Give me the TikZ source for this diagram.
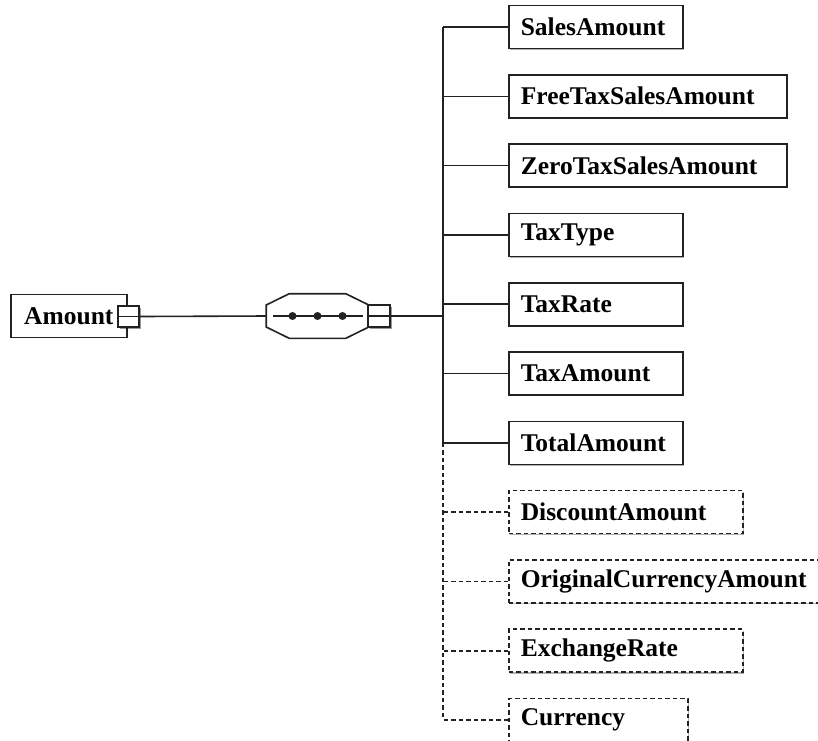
\documentclass[tikz,border=0pt]{standalone}
\usepackage{fontspec}
\setmainfont{Liberation Serif}
\usepackage{tikz}
\usetikzlibrary{positioning,shadows,calc}
\definecolor{ink}{HTML}{222222}

\begin{document}
\begin{tikzpicture}[x=1pt,y=-1pt,line width=1.6pt,draw=ink,
  font=\fontsize{25.5}{30}\selectfont\bfseries,
  elem/.style={draw,fill=white,anchor=west,minimum height=43pt,inner xsep=12pt,align=left,
    drop shadow={shadow xshift=1.3pt,shadow yshift=-1.3pt,opacity=0.3,fill=black}},
  optelem/.style={elem,drop shadow={opacity=0},dash pattern=on 4.5pt off 3pt},
  expander/.style={draw,fill=white,minimum size=21pt,inner sep=0pt,
    drop shadow={shadow xshift=1.5pt,shadow yshift=-1.5pt,opacity=0.4,fill=black},
    path picture={\draw (path picture bounding box.west) -- (path picture bounding box.east);}},
  branch/.style={line width=1.6pt},
  optbranch/.style={line width=1.6pt,dash pattern=on 4.5pt off 3pt}]
\useasboundingbox (0,0) rectangle (818,740);
% root
\node[draw,fill=white,minimum width=116pt,minimum height=43pt,anchor=west] (amount) at (10,316) {Amount};
\node[expander] (amountx) at (128.5,316.5) {};
% sequence
\node[minimum width=101pt,minimum height=43pt,inner sep=0pt] (seq) at (317.5,316) {};
\draw (amountx.east) -- (seq.west);
\draw[fill=white] ([yshift=11pt]seq.west) -- ([xshift=23pt]seq.north west) -- ([xshift=-23pt]seq.north east)
  -- ([yshift=11pt]seq.east) -- ([yshift=-11pt]seq.east) -- ([xshift=-23pt]seq.south east)
  -- ([xshift=23pt]seq.south west) -- ([yshift=-11pt]seq.west) -- cycle;
\draw ([xshift=7pt]seq.west) -- ([xshift=-6pt]seq.east);
\foreach \dx in {-25,0,25}
  \fill[ink] ([xshift=\dx pt]seq.center) circle (4pt);
\node[expander,minimum size=22pt] (seqx) at (379,316) {};
\coordinate (trunk) at (443,316);
\draw[line width=2.6pt] (seqx.east) -- (trunk);
% children
\foreach \i/\lab/\w in {0/SalesAmount/150,1/FreeTaxSalesAmount/254,2/ZeroTaxSalesAmount/254,
  3/TaxType/150,4/TaxRate/150,5/TaxAmount/150,6/TotalAmount/150}{
  \node[elem,text width=\w pt] (e\i) at (508,27+\i*69.3) {\lab};
  \draw[branch] (e\i.west) -- (e\i.west -| trunk);
}
\foreach \i/\lab/\w in {7/DiscountAmount/210,8/OriginalCurrencyAmount/306,9/ExchangeRate/210,10/Currency/155}{
  \node[optelem,text width=\w pt] (e\i) at (508,27+\i*69.3) {\lab};
  \draw[optbranch] (e\i.west) -- (e\i.west -| trunk);
}
\draw[branch] (e0.west -| trunk) -- (e6.west -| trunk);
\draw[optbranch] (e6.west -| trunk) -- (e10.west -| trunk);
\end{tikzpicture}
\end{document}
